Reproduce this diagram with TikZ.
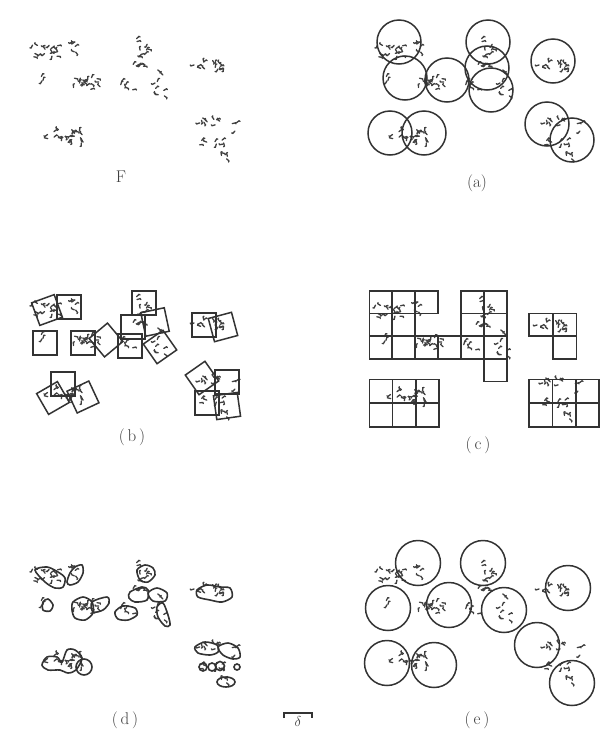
\documentclass[tikz,border=0pt]{standalone}
\usetikzlibrary{positioning}

% one clump of dust grains: centre x, centre y, spread x, spread y, count
\newcommand{\dustclump}[5]{%
  \foreach \k in {1,...,#5}{%
    \pgfmathsetmacro{\gx}{#1+#3*rand}%
    \pgfmathsetmacro{\gy}{#2+#4*rand}%
    \pgfmathsetmacro{\ga}{360*rnd}%
    \draw[grain] (\gx,\gy) -- ++(\ga:3.2) -- ++(\ga+70:1.2);
  }}
% the whole set F, same seed every time
\newcommand{\fractaldust}{%
  \pgfmathsetseed{4711}%
  \dustclump{46}{51}{14}{6}{18}
  \dustclump{73}{47}{3}{8}{6}
  \dustclump{43}{80}{2}{4}{3}
  \dustclump{88}{83}{15}{7}{18}
  \dustclump{123}{86}{10}{5}{6}
  \dustclump{144}{48}{8}{10}{10}
  \dustclump{138}{67}{10}{4}{7}
  \dustclump{160}{80}{5}{16}{9}
  \dustclump{210}{65}{16}{5}{16}
  \dustclump{64}{135}{24}{8}{24}
  \dustclump{207}{121}{14}{4}{9}
  \dustclump{234}{127}{3}{5}{3}
  \dustclump{214}{141}{16}{4}{8}
  \dustclump{223}{155}{6}{4}{4}
}
\newcommand{\sqbox}[3]{\draw[boxline,shift={(#1,#2)},rotate=#3] (-12,-12) rectangle (12,12);}

\begin{document}
\begin{tikzpicture}[x=1pt,y=-1pt,
  grain/.style={line width=1.3pt, black!75, line cap=round},
  disc/.style={draw, line width=1.5pt, black!80},
  boxline/.style={draw, line width=1.5pt, black!80},
  cell/.style={draw, line width=1.6pt, black!80},
  blob/.style={draw, line width=1.6pt, black!80},
  caption/.style={font=\fontsize{17}{19}\selectfont, black!75}
]
\useasboundingbox[fill=white] (0,0) rectangle (609,742);

% F
\fractaldust
\node[caption] (capF) at (121,177) {F};

% (a) covering by discs
\begin{scope}[shift={(345,0)}]
  \fractaldust
\end{scope}
\foreach \cx/\cy in {399/42, 405/78, 447/80, 488/42, 487/68, 491/90,
                     553/61, 390/133, 424/133, 547/124, 572/140}
  \draw[disc] (\cx,\cy) circle[radius=22];
\node[caption] (capA) at (477,183) {(a)};

% (b) covering by turned squares
\begin{scope}[shift={(0,258)}]
  \fractaldust
\end{scope}
\sqbox{47}{310}{20}
\sqbox{69}{307}{0}
\sqbox{45}{343}{0}
\sqbox{83}{343}{0}
\sqbox{106}{340}{40}
\sqbox{144}{303}{0}
\sqbox{133}{327}{0}
\sqbox{155}{322}{12}
\sqbox{130}{346}{0}
\sqbox{160}{347}{35}
\sqbox{204}{325}{0}
\sqbox{223}{327}{15}
\sqbox{63}{384}{0}
\sqbox{53}{398}{30}
\sqbox{83}{397}{25}
\sqbox{202}{378}{35}
\sqbox{227}{382}{0}
\sqbox{207}{403}{0}
\sqbox{227}{406}{8}
\node[caption] (capB) at (132,437) {(\,b\,)};

% (c) covering by a square grid
\begin{scope}[shift={(343,260)}]
  \fractaldust
\end{scope}
\foreach \c/\r in {0/0, 1/0, 2/0, 0/1, 1/1, 0/2, 1/2, 2/2, 3/2, 4/2, 5/2,
                   4/0, 5/0, 4/1, 5/1, 5/3}
  \draw[cell] (369.3+22.9*\c,290.7+22.7*\r) rectangle ++(22.9,22.7);
\foreach \c/\r in {0/0, 1/0, 1/1}
  \draw[cell] (529+23.8*\c,313.3+22.7*\r) rectangle ++(23.8,22.7);
\foreach \c in {0,1,2}
  \foreach \r in {0,1}{
    \draw[cell] (369.3+23.3*\c,379.3+23.7*\r) rectangle ++(23.3,23.7);
    \draw[cell] (529+23.4*\c,379.3+23.7*\r) rectangle ++(23.4,23.7);
  }
\node[caption] (capC) at (478,445) {(\,c\,)};

% (d) parallel body of F
\begin{scope}[shift={(0,524)}]
  \fractaldust
\end{scope}
\draw[blob] plot[smooth cycle] coordinates {(35,570) (47,567) (58,572) (65,578) (63,587) (55,588) (45,582)};
\draw[blob] plot[smooth cycle] coordinates {(70,573) (75,567) (82,565) (83,573) (78,582) (70,585) (67,582)};
\draw[blob] plot[smooth cycle] coordinates {(43,602) (48,599) (53,605) (50,611) (43,610)};
\draw[blob] plot[smooth cycle] coordinates {(73,602) (83,597) (92,602) (93,613) (85,620) (75,618) (72,610)};
\draw[blob] plot[smooth cycle] coordinates {(92,602) (107,597) (109,603) (103,610) (93,612)};
\draw[blob] plot[smooth cycle] coordinates {(115,612) (123,606) (135,608) (137,615) (128,620) (118,619)};
\draw[blob] plot[smooth cycle] coordinates {(137,570) (145,565) (153,568) (155,575) (148,582) (140,580)};
\draw[blob] plot[smooth cycle] coordinates {(130,592) (142,587) (148,590) (147,600) (135,602) (129,598)};
\draw[blob] plot[smooth cycle] coordinates {(148,593) (157,588) (167,593) (165,601) (153,601)};
\draw[blob] plot[smooth cycle] coordinates {(157,607) (163,603) (168,615) (170,625) (165,626) (158,617)};
\draw[blob] plot[smooth cycle] coordinates {(197,590) (207,585) (220,587) (230,588) (232,597) (222,602) (210,600) (198,597)};
\draw[blob] plot[smooth cycle] coordinates {(42,665) (47,657) (57,657) (62,662) (67,650) (75,650) (82,658) (76,670) (68,673) (60,670) (48,670)};
\draw[blob] (84,667) circle[radius=8];
\draw[blob] plot[smooth cycle] coordinates {(195,647) (205,642) (217,645) (218,652) (210,655) (198,653)};
\draw[blob] plot[smooth cycle] coordinates {(218,647) (228,643) (238,648) (240,657) (233,659) (223,655)};
\draw[blob] (203,667) circle[radius=4];
\draw[blob] (212,667) circle[radius=4];
\draw[blob] (220,666) circle[radius=4.5];
\draw[blob] (237,667) circle[radius=3];
\draw[blob] (226,682) ellipse[x radius=9, y radius=5];
\node[caption] (capD) at (125,720) {(\,d\,)};

% (e) packing of discs
\begin{scope}[shift={(345,524)}]
  \fractaldust
\end{scope}
\foreach \cx/\cy in {418/563, 388/608, 449/605, 483/563, 504/610,
                     568/588, 387/663, 434/665, 537/645, 572/683}
  \draw[disc] (\cx,\cy) circle[radius=22.5];
\node[caption] (capE) at (477,720) {(\,e\,)};

% scale bar
\coordinate (barL) at (284,713);
\coordinate (barR) at (312,713);
\draw[line width=1.5pt, black!80] ([yshift=-5pt]barL) -- (barL) -- (barR) -- ([yshift=-5pt]barR);
\node[caption, font=\fontsize{15}{17}\selectfont, below=0pt of barL, xshift=14pt] (capDelta) {$\delta$};
\end{tikzpicture}
\end{document}
